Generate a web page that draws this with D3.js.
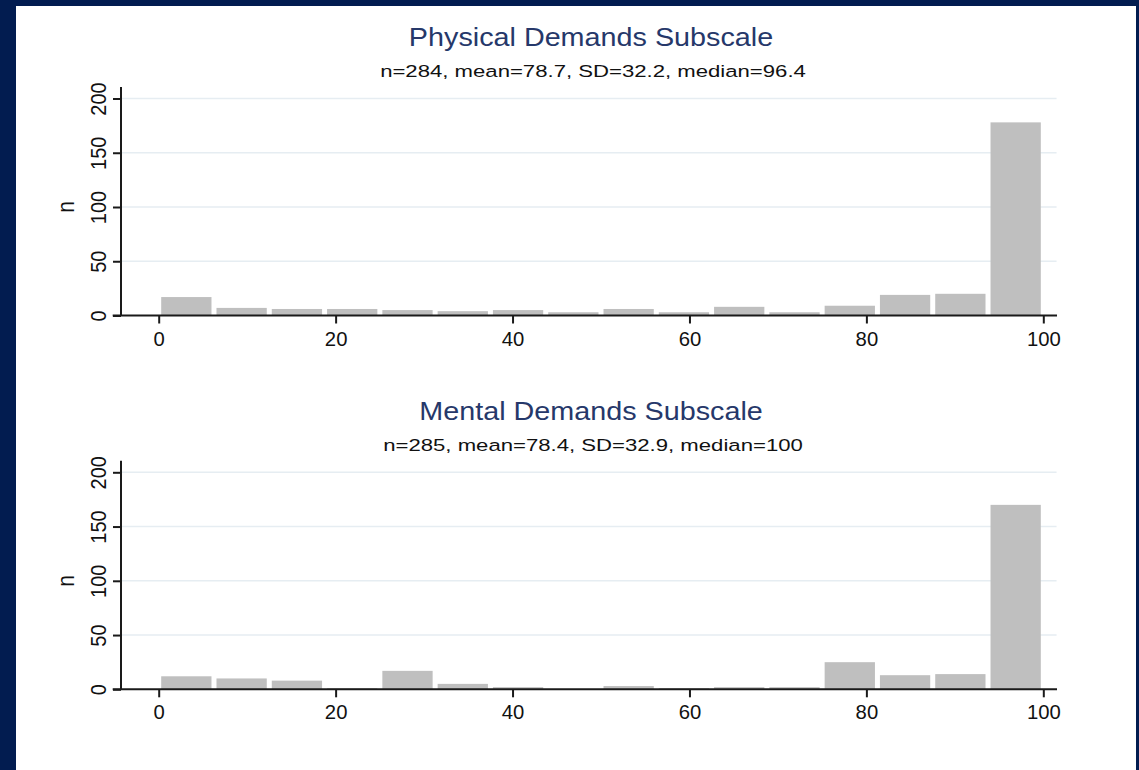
<!DOCTYPE html>
<html>
<head>
<meta charset="utf-8">
<script src="https://cdn.jsdelivr.net/npm/d3@7"></script>
<style>
  html, body { margin: 0; padding: 0; background: #021c50; }
  svg { display: block; }
  text { font-family: "Liberation Sans", Arial, sans-serif; }
</style>
</head>
<body>
<svg id="chart" width="1139" height="770"></svg>
<script>
// ---- data ----
const binWidth = 6.25;
const binStarts = [0, 6.25, 12.5, 18.75, 25, 31.25, 37.5, 43.75, 50, 56.25, 62.5, 68.75, 75, 81.25, 87.5, 93.75];
const physicalCounts = [17, 7, 6, 6, 5, 4, 5, 3, 6, 3, 8, 3, 9, 19, 20, 178];
const mentalCounts   = [12, 10, 8, 1, 17, 5, 2, 0, 3, 1, 2, 2, 25, 13, 14, 170];
const xTicks = [0, 20, 40, 60, 80, 100];
const yTicks = [0, 50, 100, 150, 200];
const panelTitles = ["Physical Demands Subscale", "Mental Demands Subscale"];
const panelSubtitles = ["n=284, mean=78.7, SD=32.2, median=96.4", "n=285, mean=78.4, SD=32.9, median=100"];
const yLabel = "n";

// ---- drawing ----
const svg = d3.select("#chart");
svg.append("rect").attr("x", 0).attr("y", 0).attr("width", 1139).attr("height", 770).attr("fill", "#021c50");
svg.append("rect").attr("x", 16).attr("y", 6).attr("width", 1120).attr("height", 764).attr("fill", "#ffffff");

const x = d3.scaleLinear().domain([0, 100]).range([158.7, 1043.3]);
const y = d3.scaleLinear().domain([0, 200]).range([315.5, 98.5]);
const axisX = 121;
const ink = "#1a1a1a";

const panels = [
  { counts: physicalCounts, title: panelTitles[0], sub: panelSubtitles[0], dy: 0 },
  { counts: mentalCounts, title: panelTitles[1], sub: panelSubtitles[1], dy: 373.8 }
];

panels.forEach(p => {
  const g = svg.append("g").attr("transform", `translate(0,${p.dy})`);

  // title & subtitle
  g.append("text")
    .attr("transform", `translate(591,45.7) scale(1.15,1)`)
    .attr("text-anchor", "middle")
    .attr("font-size", 25)
    .attr("fill", "#26386a")
    .text(p.title);
  g.append("text")
    .attr("transform", `translate(593,76.9) scale(1.28,1)`)
    .attr("text-anchor", "middle")
    .attr("font-size", 17.3)
    .attr("fill", "#111")
    .text(p.sub);

  // gridlines
  g.selectAll("line.grid").data(yTicks.filter(t => t > 0)).join("line")
    .attr("class", "grid")
    .attr("x1", axisX).attr("x2", x(101.5))
    .attr("y1", d => y(d)).attr("y2", d => y(d))
    .attr("stroke", "#e6edf2").attr("stroke-width", 1.5);

  // bars
  const bins = binStarts.map((s, i) => ({ start: s, v: p.counts[i] })).filter(d => d.v > 0);
  g.selectAll("rect.bar").data(bins).join("rect")
    .attr("class", "bar")
    .attr("x", d => x(d.start) + 2.5)
    .attr("width", d => x(d.start + binWidth) - x(d.start) - 5)
    .attr("y", d => y(d.v))
    .attr("height", d => y(0) - y(d.v))
    .attr("fill", "#bfbfbf");

  // y axis
  const ya = g.append("g").attr("transform", `translate(${axisX},0)`)
    .call(d3.axisLeft(y).tickValues(yTicks).tickSize(8).tickSizeOuter(0));
  ya.select(".domain").remove();
  ya.append("line").attr("x1", 0).attr("x2", 0).attr("y1", y(0)).attr("y2", y(210.7))
    .attr("stroke", ink).attr("stroke-width", 2);
  ya.selectAll(".tick line").attr("stroke", ink).attr("stroke-width", 2);
  ya.selectAll(".tick text")
    .attr("x", null).attr("dy", null).attr("y", null)
    .attr("transform", "translate(-15,0) scale(1.12,1) rotate(-90)")
    .attr("text-anchor", "middle")
    .attr("font-size", 20)
    .attr("fill", "#111");

  // x axis
  const xa = g.append("g").attr("transform", `translate(0,${y(0)})`)
    .call(d3.axisBottom(x).tickValues(xTicks).tickSize(8).tickSizeOuter(0));
  xa.select(".domain").remove();
  xa.append("line").attr("x1", x(-5.2)).attr("x2", x(101.55)).attr("y1", 0).attr("y2", 0)
    .attr("stroke", ink).attr("stroke-width", 2);
  xa.selectAll(".tick line").attr("stroke", ink).attr("stroke-width", 2);
  xa.selectAll(".tick text")
    .attr("y", null).attr("dy", null)
    .attr("transform", "translate(0,30) scale(1.04,1)")
    .attr("text-anchor", "middle")
    .attr("font-size", 19.5)
    .attr("fill", "#111");

  // y label
  g.append("text")
    .attr("transform", `translate(74,207) scale(1.12,1) rotate(-90)`)
    .attr("text-anchor", "middle")
    .attr("font-size", 21)
    .attr("fill", "#111")
    .text(yLabel);
});
</script>
</body>
</html>
